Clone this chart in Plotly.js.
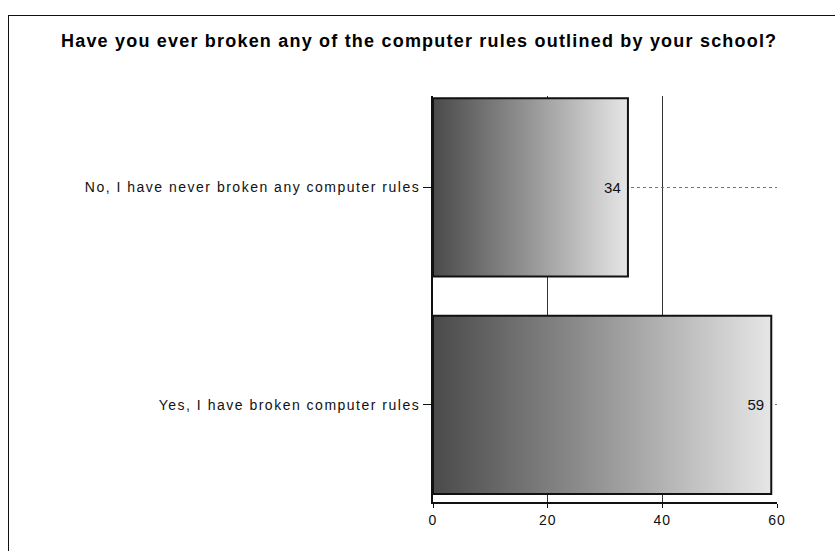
<!DOCTYPE html>
<html>
<head>
<meta charset="utf-8">
<script src="https://cdn.plot.ly/plotly-3.0.1.min.js"></script>
<style>
  html, body { margin: 0; padding: 0; background: #fff; }
  #wrap { position: relative; width: 835px; height: 551px; overflow: hidden; }
  #frame { position: absolute; left: 8px; top: 15px; width: 900px; height: 600px;
           border-left: 1.5px solid #111; border-top: 1.5px solid #111; pointer-events: none; }
  #chart { position: absolute; left: 0; top: 0; width: 835px; height: 551px; }
  #chart .gtitle { letter-spacing: 1.2px; }
  #chart .ytick text { letter-spacing: 1.5px; }
  #chart .xtick text { letter-spacing: 1px; }
</style>
</head>
<body>
<div id="wrap">
  <div id="chart"></div>
  <div id="frame"></div>
</div>
<script>
// ---- data ----
const categories = ["Yes, I have broken computer rules", "No, I have never broken any computer rules"];
const counts = [59, 34];
const xTickValues = [0, 20, 40, 60];
const chartTitle = "Have you ever broken any of the computer rules outlined by your school?";

const trace = {
  type: "bar",
  orientation: "h",
  y: categories,
  x: counts,
  text: counts.map(function (v) { return String(v) + "\u00a0"; }),
  textposition: "inside",
  insidetextanchor: "end",
  textfont: { family: "Liberation Sans, Arial, sans-serif", size: 15, color: "#111" },
  marker: { color: "#8a8a8a", line: { color: "#111", width: 2 } },
  hoverinfo: "none",
  cliponaxis: false
};

const layout = {
  width: 835,
  height: 551,
  margin: { l: 433, r: 58, t: 96, b: 49, pad: 0 },
  paper_bgcolor: "rgba(0,0,0,0)",
  plot_bgcolor: "#fff",
  showlegend: false,
  bargap: 0.18,
  font: { family: "Liberation Sans, Arial, sans-serif", size: 14, color: "#111" },
  title: {
    text: "<b>" + chartTitle + "</b>",
    font: { family: "Liberation Sans, Arial, sans-serif", size: 18, color: "#000" },
    x: 0.502, xref: "container", xanchor: "center",
    y: 0.926, yref: "container", yanchor: "middle"
  },
  xaxis: {
    range: [0, 60],
    tickvals: xTickValues,
    ticktext: xTickValues.map(String),
    ticks: "outside", ticklen: 4, tickwidth: 1, tickcolor: "#111",
    showline: true, linecolor: "#111", linewidth: 2,
    showgrid: true, gridcolor: "#333", gridwidth: 1,
    zeroline: false,
    tickfont: { size: 14, color: "#111" },
    fixedrange: true
  },
  yaxis: {
    type: "category",
    categoryorder: "array",
    categoryarray: categories,
    range: [-0.447, 1.42],
    ticks: "outside", ticklen: 8, tickwidth: 1, tickcolor: "#111",
    showline: true, linecolor: "#111", linewidth: 2,
    showgrid: true, gridcolor: "#777", gridwidth: 1, griddash: "dot",
    zeroline: false,
    tickfont: { size: 14, color: "#111" },
    fixedrange: true
  }
};

Plotly.newPlot("chart", [trace], layout, { staticPlot: true, displayModeBar: false }).then(function (gd) {
  const NS = "http://www.w3.org/2000/svg";
  const svg = gd.querySelector(".main-svg");
  let defs = svg.querySelector("defs");
  if (!defs) { defs = document.createElementNS(NS, "defs"); svg.insertBefore(defs, svg.firstChild); }
  const grad = document.createElementNS(NS, "linearGradient");
  grad.setAttribute("id", "barGrad");
  grad.setAttribute("x1", "0"); grad.setAttribute("y1", "0");
  grad.setAttribute("x2", "1"); grad.setAttribute("y2", "0");
  [["0", "#4a4a4a"], ["0.45", "#8e8e8e"], ["1", "#e6e6e6"]].forEach(function (s) {
    const st = document.createElementNS(NS, "stop");
    st.setAttribute("offset", s[0]);
    st.setAttribute("stop-color", s[1]);
    grad.appendChild(st);
  });
  defs.appendChild(grad);
  gd.querySelectorAll(".bars .point path").forEach(function (p) {
    p.style.fill = "url(#barGrad)";
  });
});
</script>
</body>
</html>
